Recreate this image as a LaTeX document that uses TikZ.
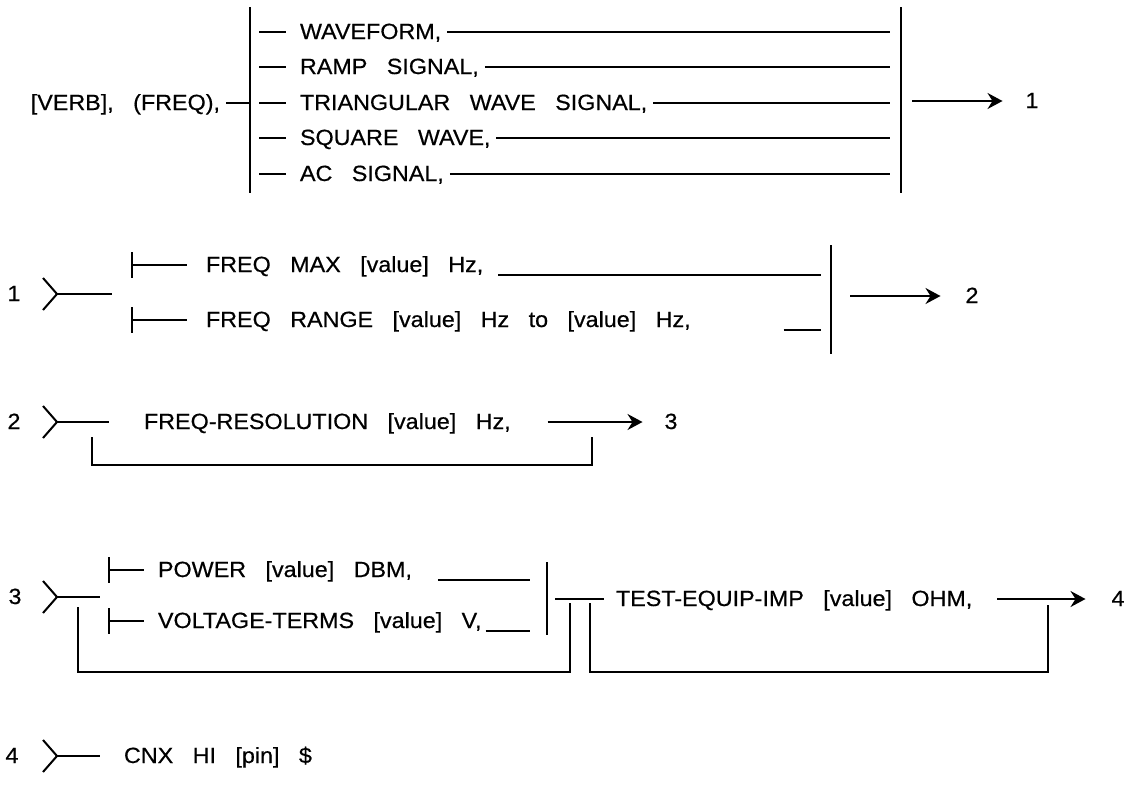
\documentclass[tikz,border=0pt]{standalone}
\usepackage{fontspec}
\setmainfont{Liberation Sans}[FakeStretch=1.06, WordSpace=3, FakeBold=0.5]
\usetikzlibrary{arrows.meta, positioning}

\begin{document}
\begin{tikzpicture}[x=1pt, y=-1pt, line width=2pt,
    >={Stealth[length=15pt, width=16pt, inset=5pt]},
    font=\fontsize{22}{24}\selectfont,
    item/.style={anchor=west, inner sep=0pt, text height=16pt, text depth=2pt},
    num/.style={inner sep=0pt, text height=16pt, text depth=2pt},
    bar/.style={line width=2.4pt},
]
\useasboundingbox (0,0) rectangle (1130,785);

% row 1: verb and signal kinds
\node[item, anchor=east] (verb) at (221,103) {[VERB], (FREQ),};
\coordinate (barL1) at (250,7);
\coordinate (barR1) at (901,7);
\coordinate (endR1) at (890,0);
\draw[bar] (barL1) -- (250,193);
\draw[bar] (barR1) -- (901,193);
\draw ([xshift=5pt]verb.east) -- (verb.east -| barL1);
\foreach \y/\name/\txt in {32/wave/{WAVEFORM,}, 67/ramp/{RAMP SIGNAL,},
    103/tri/{TRIANGULAR WAVE SIGNAL,}, 138/square/{SQUARE WAVE,}, 174/ac/{AC SIGNAL,}} {
  \node[item] (\name) at (299,\y) {\txt};
  \draw ([xshift=-40pt]\name.west) -- ([xshift=-13pt]\name.west);
  \draw ([xshift=5pt]\name.east) -- (\name.east -| endR1);
}
\node[num] (to1) at (1032,101) {1};
\draw[->] ([xshift=11pt]barR1 |- to1) -- ([xshift=-22pt]to1.west);

% row 2: frequency
\node[num] (n1) at (14,294) {1};
\coordinate (m1) at (57,294);
\draw (m1) ++(-14,-16) -- (m1) -- ++(-14,16);
\draw (m1) -- (112,294);
\node[item] (fmax) at (205,265) {FREQ MAX [value] Hz,};
\node[item] (frange) at (205,320) {FREQ RANGE [value] Hz to [value] Hz,};
\foreach \n in {fmax, frange} {
  \draw ([xshift=-73pt, yshift=13pt]\n.west) -- ([xshift=-73pt, yshift=-13pt]\n.west);
  \draw ([xshift=-73pt]\n.west) -- ([xshift=-18pt]\n.west);
}
\coordinate (barR2) at (831,245);
\coordinate (endR2) at (821,0);
\draw[bar] (barR2) -- (831,354);
\draw ([xshift=14pt]fmax.south east) -- (fmax.south east -| endR2);
\draw ([xshift=92pt]frange.south east) -- (frange.south east -| endR2);
\node[num] (to2) at (972,296) {2};
\draw[->] ([xshift=19pt]barR2 |- to2) -- ([xshift=-24pt]to2.west);

% row 3: resolution
\node[num] (n2) at (14,422) {2};
\coordinate (m2) at (57,422);
\draw (m2) ++(-14,-16) -- (m2) -- ++(-14,16);
\draw (m2) -- (109,422);
\node[item] (fres) at (143,422) {FREQ-RESOLUTION [value] Hz,};
\node[num] (to3) at (671,422) {3};
\draw[->] ([xshift=36pt]fres.east) -- ([xshift=-21pt]to3.west);
\coordinate (skip3a) at (92,437);
\coordinate (skip3b) at (592,437);
\draw (skip3a) -- ++(0,28) -| (skip3b);

% row 4: level and impedance
\node[num] (n3) at (15,597) {3};
\coordinate (m3) at (57,597);
\draw (m3) ++(-14,-16) -- (m3) -- ++(-14,16);
\draw (m3) -- (100,597);
\node[item] (power) at (157,570) {POWER [value] DBM,};
\node[item] (volt) at (157,621) {VOLTAGE-TERMS [value] V,};
\foreach \n in {power, volt} {
  \draw ([xshift=-48pt, yshift=13pt]\n.west) -- ([xshift=-48pt, yshift=-13pt]\n.west);
  \draw ([xshift=-48pt]\n.west) -- ([xshift=-13pt]\n.west);
}
\coordinate (barR4) at (547,562);
\coordinate (endR4) at (530,0);
\draw[bar] (barR4) -- (547,635);
\draw ([xshift=25pt]power.south east) -- (power.south east -| endR4);
\draw ([xshift=3pt]volt.south east) -- (volt.south east -| endR4);
\node[item] (tequip) at (615,599) {TEST-EQUIP-IMP [value] OHM,};
\draw ([xshift=8pt]barR4 |- tequip) -- ([xshift=-11pt]tequip.west);
\node[num] (to4) at (1118,599) {4};
\draw[->] ([xshift=24pt]tequip.east) -- ([xshift=-25pt]to4.west);
\coordinate (skip4a) at (78,607);
\coordinate (skip4b) at (570,603);
\coordinate (skip5a) at (590,603);
\coordinate (skip5b) at (1048,605);
\draw (skip4a) -- ++(0,65) -| (skip4b);
\draw (skip5a) -- ++(0,69) -| (skip5b);

% row 6: connection
\node[num] (n4) at (12,756) {4};
\coordinate (m4) at (57,756);
\draw (m4) ++(-14,-16) -- (m4) -- ++(-14,16);
\draw (m4) -- (100,756);
\node[item] (cnx) at (123,756) {CNX HI [pin] \$};
\end{tikzpicture}
\end{document}
